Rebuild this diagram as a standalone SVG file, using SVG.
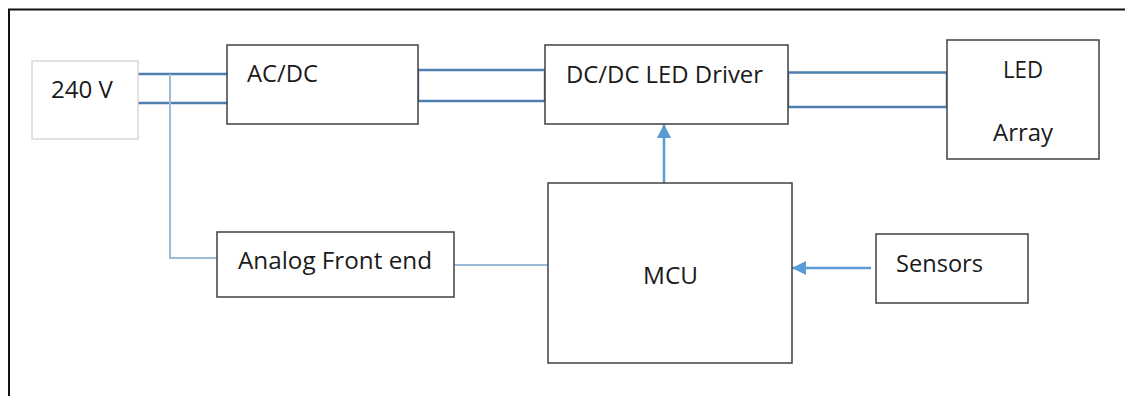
<svg xmlns="http://www.w3.org/2000/svg" width="1125" height="396" viewBox="0 0 1125 396">
<style>
.box{fill:#fff;stroke:#404040;stroke-width:1.5}
.src{fill:#fff;stroke:#d9d9d9;stroke-width:1.5}
.t{font-family:"Open Sans","Liberation Sans",sans-serif;font-size:23.5px;fill:#1a1a1a}
.pw{fill:none;stroke:#4f7fae;stroke-width:2.4}
.sig{fill:none;stroke:#9dbbdb;stroke-width:2}
.arr{fill:none;stroke:#5b9bd5;stroke-width:2.5;marker-end:url(#ah)}
</style>
<defs>
<marker id="ah" viewBox="0 0 14 14" refX="14" refY="7" markerWidth="14" markerHeight="14" markerUnits="userSpaceOnUse" orient="auto">
<path d="M0,0 L14,7 L0,14 z" fill="#5b9bd5"/>
</marker>
</defs>
<rect width="1125" height="396" fill="#fff"/>
<path d="M9,396 V9.5 H1125" fill="none" stroke="#111" stroke-width="2"/>
<g id="connectors">
<path class="pw" d="M138,74 H227 M138,103 H227"/>
<path class="sig" d="M170,74 V258 H217"/>
<path class="pw" d="M418,70 H545 M418,101 H545 M418,70 V101 M545,70 V101"/>
<path class="pw" d="M788,72.5 H947 M788,107 H947 M788,72.5 V107 M947,72.5 V107"/>
<path class="sig" d="M454,265 H548"/>
<path class="arr" d="M664,183 V124"/>
<path class="arr" d="M871,268 H792"/>
</g>
<g id="n240v"><rect class="src" x="32" y="61" width="106" height="78"/><text class="t" x="51" y="98" textLength="62" lengthAdjust="spacingAndGlyphs">240 V</text></g>
<g id="acdc"><rect class="box" x="227" y="45" width="191" height="79"/><text class="t" x="247" y="82" textLength="71" lengthAdjust="spacingAndGlyphs">AC/DC</text></g>
<g id="dcdc"><rect class="box" x="545" y="45" width="243" height="79"/><text class="t" x="566" y="83" textLength="197" lengthAdjust="spacingAndGlyphs">DC/DC LED Driver</text></g>
<g id="led"><rect class="box" x="947" y="40" width="152" height="119"/><text class="t" x="1003" y="78" textLength="40" lengthAdjust="spacingAndGlyphs">LED</text><text class="t" x="993" y="141" textLength="60" lengthAdjust="spacingAndGlyphs">Array</text></g>
<g id="afe"><rect class="box" x="217" y="232" width="237" height="65"/><text class="t" x="238" y="269" textLength="194" lengthAdjust="spacingAndGlyphs">Analog Front end</text></g>
<g id="mcu"><rect class="box" x="548" y="183" width="244" height="180"/><text class="t" x="643" y="284" textLength="55" lengthAdjust="spacingAndGlyphs">MCU</text></g>
<g id="sensors"><rect class="box" x="876" y="234" width="152" height="69"/><text class="t" x="896" y="272" textLength="87" lengthAdjust="spacingAndGlyphs">Sensors</text></g>
</svg>
